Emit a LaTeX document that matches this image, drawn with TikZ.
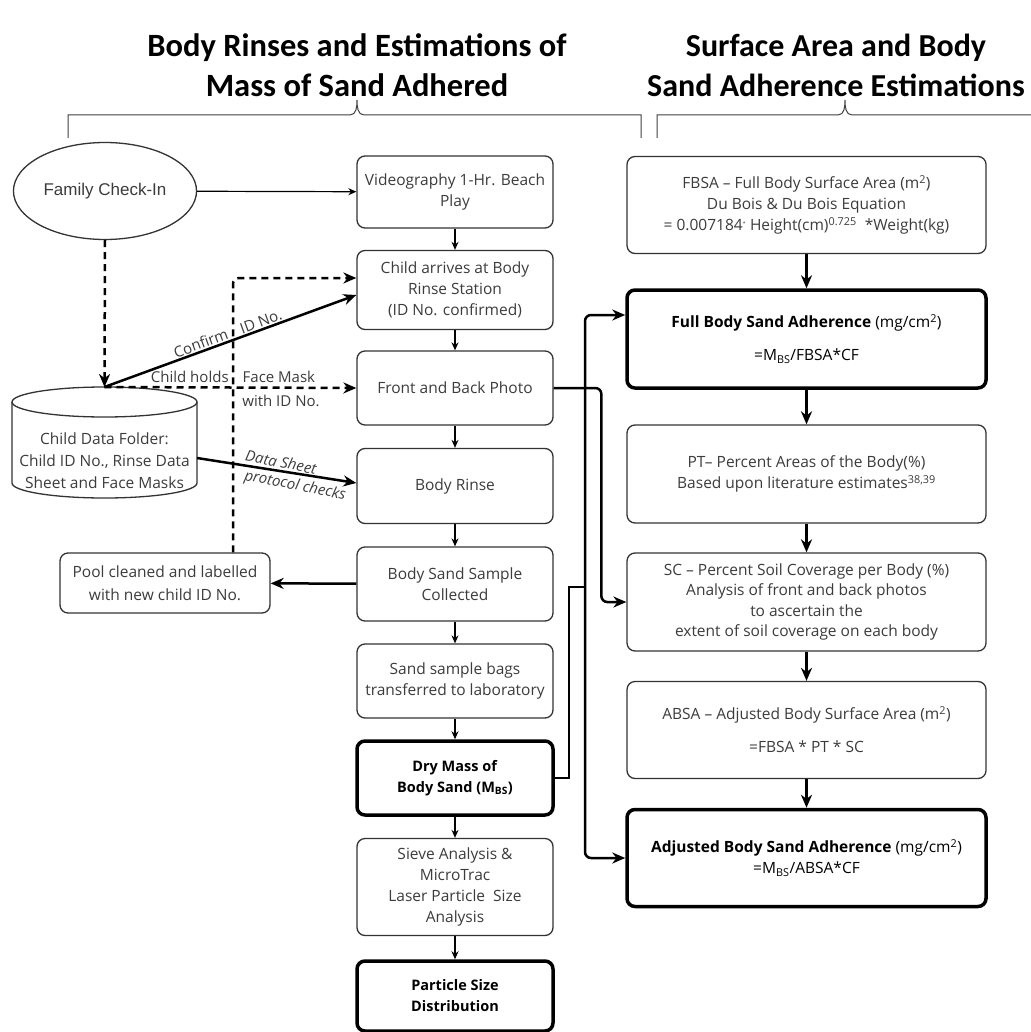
\documentclass[tikz,border=0pt]{standalone}
\usepackage{fontspec}
\setmainfont{Open Sans}
\newfontfamily\titre{Carlito}
\newfontfamily\arial{Liberation Sans}
\usetikzlibrary{shapes.geometric,arrows.meta,calc}
\definecolor{texte}{HTML}{3C3C3C}
\tikzset{boite/.style={
    draw=black!80, line width=1.3pt, rounded corners=8pt, align=center,
    text=texte, minimum width=196pt, inner xsep=2pt, font=\fontsize{15.5}{21}\selectfont},
  boitelarge/.style={boite, minimum width=359pt},
  gras/.style={line width=3.5pt, draw=black, text=black},
  lbl/.style={text=texte, font=\fontsize{15}{18}\selectfont, inner sep=1pt},
  fleche/.style={-{Stealth[length=8pt,width=7pt]}, line width=1.2pt},
  flecheg/.style={-{Stealth[length=13pt,width=11pt]}, line width=2.5pt},
  tirets/.style={flecheg, dash pattern=on 7pt off 5pt},
  accolade/.style={line width=1pt, draw=black!75}}

\begin{document}
\begin{tikzpicture}[x=1pt,y=-1pt]
\fill[white] (0,0) rectangle (1030,1032);
\useasboundingbox (0,0) rectangle (1030,1032);

  % titres
\node[font=\titre\bfseries\fontsize{32.5}{40}\selectfont, align=center] (titreA) at (357,65)
  {Body Rinses and Estimations of\\Mass of Sand Adhered};
\node[font=\titre\bfseries\fontsize{32}{40}\selectfont, align=center] (titreB) at (836,65)
  {Surface Area and Body\\Sand Adherence Estimations};
\draw[accolade] (68,138) |- (350,115) to[out=0,in=-90] (357,100)
  to[out=-90,in=180] (364,115) -| (641,138);
\draw[accolade] (657,138) |- (838,115) to[out=0,in=-90] (845,100)
  to[out=-90,in=180] (852,115) -- (1040,115);

  % colonne de gauche
\node[draw=black!80, line width=1.3pt, ellipse, minimum width=150pt, minimum height=97pt,
  text=texte, font=\arial\fontsize{17}{20}\selectfont] (famille) at (105,191) {Family Check-In};
\draw[draw=black!80, line width=1.3pt] (12,402) -- (12,483)
  arc[start angle=180, end angle=360, x radius=92.5pt, y radius=15pt] -- (197,402);
\draw[draw=black!80, line width=1.3pt] (104.5,402) ellipse[x radius=92.5pt, y radius=15pt];
\node[align=center, text=texte, font=\fontsize{15.5}{22}\selectfont] (dossier) at (104.5,461)
  {Child Data Folder:\\Child ID No., Rinse Data\\Sheet and Face Masks};
\coordinate (haut) at (104.5,387);
\coordinate (flanc) at (197,458);
\node[boite, minimum width=210pt, minimum height=60pt, font=\fontsize{15.5}{23}\selectfont] (pool) at (165,583)
  {Pool cleaned and labelled\\with new child ID No.};

  % colonne centrale
\node[boite, minimum height=72pt] (video) at (455,192) {Videography 1-Hr. Beach\\Play};
\node[boite, minimum height=79pt] (enfant) at (455,290) {Child arrives at Body\\Rinse Station\\(ID No. confirmed)};
\node[boite, minimum height=74pt] (photo) at (455,388) {Front and Back Photo};
\node[boite, minimum height=75pt] (rincage) at (455,486) {Body Rinse};
\node[boite, minimum height=74pt] (sable) at (455,584) {Body Sand Sample\\Collected};
\node[boite, minimum height=74pt] (sacs) at (455,681) {Sand sample bags\\transferred to laboratory};
\node[boite, gras, minimum height=74pt, font=\fontsize{14.5}{21}\selectfont] (sec) at (455,778)
  {\textbf{Dry Mass of}\\\textbf{Body Sand (M\textsubscript{BS})}};
\node[boite, minimum height=97pt] (tamis) at (455,887) {Sieve Analysis \&\\MicroTrac\\Laser Particle~ Size\\Analysis};
\node[boite, gras, minimum height=70pt, font=\fontsize{14.5}{21}\selectfont] (distrib) at (455,996)
  {\textbf{Particle Size}\\\textbf{Distribution}};

  % colonne de droite
\node[boitelarge, minimum height=97pt] (fbsa) at (806.5,205)
  {FBSA -- Full Body Surface Area (m\textsuperscript{2})\\Du Bois \& Du Bois Equation\\
   = 0.007184\textsuperscript{\tiny *} Height(cm)\textsuperscript{0.725} ~*Weight(kg)};
\node[boitelarge, gras, minimum height=98pt] (full) at (806.5,339)
  {\textbf{Full Body Sand Adherence} (mg/cm\textsuperscript{2})\\[12pt]=M\textsubscript{BS}/FBSA*CF};
\node[boitelarge, minimum height=98pt] (pt) at (806.5,474)
  {PT-- Percent Areas of the Body(\%)\\Based upon literature estimates\textsuperscript{38,39}};
\node[boitelarge, minimum height=98pt, font=\fontsize{15.5}{20.5}\selectfont] (sc) at (806.5,602)
  {SC -- Percent Soil Coverage per Body (\%)\\Analysis of front and back photos\\to ascertain the\\extent of soil coverage on each body};
\node[boitelarge, minimum height=97pt] (absa) at (806.5,730)
  {ABSA -- Adjusted Body Surface Area (m\textsuperscript{2})\\[12pt]=FBSA * PT * SC};
\node[boitelarge, gras, minimum height=97pt] (ajuste) at (806.5,858)
  {\textbf{Adjusted Body Sand Adherence} (mg/cm\textsuperscript{2})\\=M\textsubscript{BS}/ABSA*CF};

  % fleches
\draw[fleche] (famille) -- (video);
\foreach \a/\b in {video/enfant,enfant/photo,photo/rincage,rincage/sable,sable/sacs,sacs/sec,sec/tamis,tamis/distrib}
  \draw[fleche] (\a) -- (\b);
\foreach \a/\b in {fbsa/full,full/pt,pt/sc,sc/absa,absa/ajuste}
  \draw[flecheg] (\a) -- (\b);

\draw[tirets] (famille.south) -- (haut);
\draw[flecheg] (haut) -- ($(enfant.west)+(0,5)$)
  node[lbl, sloped, above, pos=0.5] {Confirm\hspace{14pt}ID No.};
\draw[tirets] (haut) -- (photo.west);
\node[lbl] at (233,377) {Child holds\hspace{14pt}Face Mask};
\node[lbl] at (281,401) {with ID No.};
\draw[flecheg] (flanc) -- ($(rincage.west)+(0,-3)$);
\node[lbl, rotate=-11, font=\itshape\fontsize{15}{18}\selectfont] at (281,462) {Data Sheet};
\node[lbl, rotate=-11, font=\itshape\fontsize{15}{18}\selectfont] at (295,486) {protocol checks};
\draw[tirets, rounded corners=6pt] ($(pool.north)+(68,0)$) |- ($(enfant.west)+(0,-12)$);
\draw[flecheg] (sable) -- (pool);

\draw[flecheg, rounded corners=6pt] (photo.east) -| ($(sc.west)+(-25,0)$) -- (sc.west);
\coordinate (j) at (585,587);
\draw[line width=2.5pt] (sec.east) -- ++(14,0) |- (j);
\draw[flecheg, rounded corners=6pt] (j) |- ($(full.west)+(0,-24)$);
\draw[flecheg, rounded corners=6pt] (j) |- (ajuste.west);
\end{tikzpicture}
\end{document}
